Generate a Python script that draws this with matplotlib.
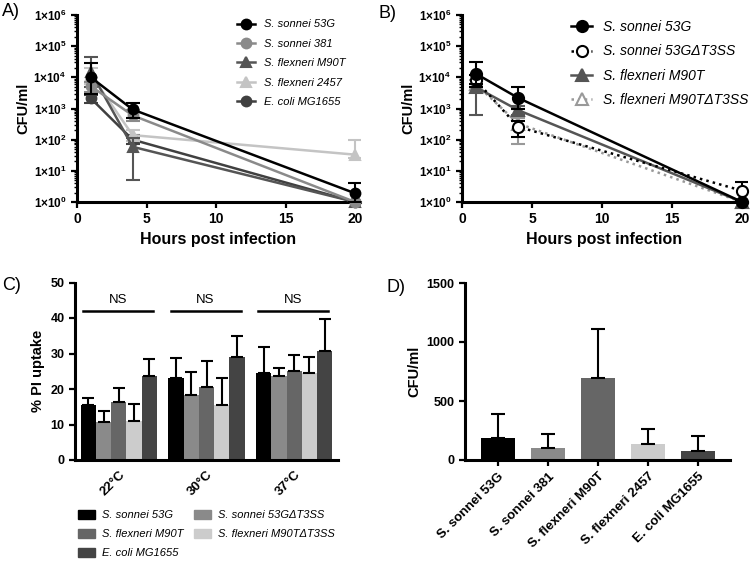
import matplotlib.pyplot as plt
import numpy as np
from matplotlib.ticker import LogLocator, NullFormatter
from matplotlib.patches import Patch

plt.rcParams['font.family'] = 'Liberation Sans'
plt.rcParams['font.weight'] = 'bold'
plt.rcParams['axes.labelweight'] = 'bold'
plt.rcParams['mathtext.fontset'] = 'custom'
plt.rcParams['mathtext.rm'] = 'Liberation Sans:bold'
plt.rcParams['mathtext.bf'] = 'Liberation Sans:bold'
plt.rcParams['mathtext.it'] = 'Liberation Sans:italic:bold'

hours = [1, 4, 20]

# panel A - survival of strains (mean, lower and upper error bar ends)
a_names = ['S. sonnei 53G', 'S. sonnei 381', 'S. flexneri M90T',
           'S. flexneri 2457', 'E. coli MG1655']
a_means = [[10000, 930, 1.9],
           [5200, 600, 1.0],
           [15000, 59, 1.0],
           [12000, 140, 33],
           [2100, 100, 1.0]]
a_lo = [[3000, 480, 1.0],
        [3500, 400, 1.0],
        [5000, 5, 1.0],
        [6000, 90, 25],
        [1500, 70, 1.0]]
a_hi = [[28000, 1500, 4.1],
        [7000, 900, 1.0],
        [46000, 113, 1.0],
        [20000, 200, 100],
        [2800, 140, 1.0]]
a_colors = ['black', '#8a8a8a', '#555555', '#c4c4c4', '#404040']
a_markers = ['o', 'o', '^', '^', 'o']

# panel B - T3SS mutants
b_names = ['S. sonnei 53G', 'S. sonnei 53G\u0394T3SS', 'S. flexneri M90T',
           'S. flexneri M90T\u0394T3SS']
b_means = [[13000, 2200, 1.0],
           [8000, 260, 2.3],
           [4800, 890, 1.0],
           [6000, 330, 1.0]]
b_lo = [[6000, 1000, 1.0],
        [5000, 122, 1.2],
        [610, 600, 1.0],
        [4000, 72, 1.0]]
b_hi = [[32000, 4800, 1.0],
        [12000, 400, 4.4],
        [6000, 1200, 1.0],
        [8000, 500, 1.0]]
b_colors = ['black', 'black', '#555555', '#999999']
b_markers = ['o', 'o', '^', '^']
b_open = [False, True, False, True]
b_styles = ['-', ':', '-', ':']

# panel C - PI uptake
temps = ['22\u00b0C', '30\u00b0C', '37\u00b0C']
c_names = ['S. sonnei 53G', 'S. sonnei 53G\u0394T3SS', 'S. flexneri M90T',
           'S. flexneri M90T\u0394T3SS', 'E. coli MG1655']
c_means = [[15.4, 23.0, 24.4],
           [10.8, 18.3, 23.6],
           [16.4, 20.6, 25.1],
           [11.1, 15.6, 24.4],
           [23.7, 28.9, 30.6]]
c_err = [[2.0, 5.7, 7.5],
         [3.0, 6.6, 2.2],
         [3.8, 7.4, 4.6],
         [4.7, 7.6, 4.7],
         [4.7, 6.1, 9.2]]
c_colors = ['black', '#8a8a8a', '#666666', '#cccccc', '#444444']

# panel D - CFU/ml
d_names = ['S. sonnei 53G', 'S. sonnei 381', 'S. flexneri M90T',
           'S. flexneri 2457', 'E. coli MG1655']
d_means = [189, 99, 699, 138, 76]
d_err = [200, 121, 408, 121, 127]
d_colors = ['black', '#8a8a8a', '#666666', '#cccccc', '#444444']

fig = plt.figure(figsize=(7.5, 5.62), dpi=100)


def style_axes(ax):
    for s in ['top', 'right']:
        ax.spines[s].set_visible(False)
    for s in ['left', 'bottom']:
        ax.spines[s].set_linewidth(2.2)
    ax.tick_params(which='major', direction='out', width=1.6, length=4,
                   labelsize=9)
    ax.tick_params(which='minor', direction='out', width=1.0, length=2.5)


def log_axes(ax):
    ax.set_yscale('log')
    ax.set_ylim(1, 1e6)
    ax.set_xlim(0, 20.35)
    ax.set_yticks([10.0 ** k for k in range(7)])
    ax.set_yticklabels(['1\u00d710$^{%d}$' % k for k in range(7)])
    ax.yaxis.set_minor_locator(LogLocator(base=10, subs=np.arange(2, 10)))
    ax.yaxis.set_minor_formatter(NullFormatter())
    ax.set_xticks([0, 5, 10, 15, 20])
    style_axes(ax)
    ax.tick_params(axis='y', which='major', labelsize=8.5)
    ax.tick_params(axis='x', labelsize=10)
    ax.set_xlabel('Hours post infection', fontsize=11.5)
    ax.set_ylabel('CFU/ml', fontsize=10.5, labelpad=2)


def time_course(ax, means, lo, hi, colors, markers, styles, faces, ms):
    handles = []
    for i in range(len(means)):
        m = np.array(means[i], float)
        err = [m - np.array(lo[i], float), np.array(hi[i], float) - m]
        ax.errorbar(hours, m, yerr=err, fmt='none', ecolor=colors[i],
                    elinewidth=1.5, capsize=5, capthick=1.5,
                    zorder=10 - i, clip_on=True)
        ln, = ax.plot(hours, m, color=colors[i], lw=1.8, ls=styles[i],
                      marker=markers[i], ms=ms, mfc=faces[i], mec=colors[i],
                      mew=1.5, zorder=10 - i, clip_on=False)
        handles.append(ln)
    return handles


# ---- A
axA = fig.add_axes([77 / 750, 1 - 202 / 562, 283 / 750, 187 / 562])
hA = time_course(axA, a_means, a_lo, a_hi, a_colors, a_markers,
                 ['-'] * 5, a_colors, 7)
log_axes(axA)
axA.legend(hA, a_names, loc='upper left',
           bbox_to_anchor=(0.53, 1.03), frameon=False,
           prop={'style': 'italic', 'size': 8, 'weight': 'normal'},
           labelspacing=0.85, handlelength=1.6, handletextpad=0.8)

# ---- B
axB = fig.add_axes([462 / 750, 1 - 202 / 562, 285 / 750, 187 / 562])
b_faces = ['white' if o else c for o, c in zip(b_open, b_colors)]
hB = time_course(axB, b_means, b_lo, b_hi, b_colors, b_markers, b_styles,
                 b_faces, 8)
log_axes(axB)
axB.legend(hB, b_names, loc='upper left',
           bbox_to_anchor=(0.34, 1.04), frameon=False,
           prop={'style': 'italic', 'size': 10, 'weight': 'normal'},
           labelspacing=0.75, handlelength=1.5, handletextpad=0.8)

# ---- C
axC = fig.add_axes([75 / 750, 1 - 460 / 562, 263 / 750, 177.5 / 562])
x = np.arange(len(temps))
bw = 0.174
for i in range(len(c_names)):
    pos = x + (i - 2) * bw
    axC.bar(pos, c_means[i], width=bw, color=c_colors[i], zorder=2)
    axC.errorbar(pos, c_means[i], yerr=[np.zeros(3), c_err[i]], fmt='none',
                 ecolor='black', elinewidth=1.5, capsize=4.5, capthick=1.5,
                 zorder=3)
axC.set_xlim(-0.5, 2.5)
axC.set_ylim(0, 50)
axC.set_yticks([0, 10, 20, 30, 40, 50])
axC.set_xticks(x)
axC.set_xticklabels(temps, rotation=45, ha='right', rotation_mode='anchor')
style_axes(axC)
axC.tick_params(axis='x', length=0, pad=6, labelsize=9.5)
axC.set_ylabel('% PI uptake', fontsize=10.5)
for g in x:
    axC.plot([g - 0.41, g + 0.39], [42, 42], color='black', lw=1.8,
             clip_on=False)
    axC.text(g - 0.01, 43.5, 'NS', ha='center', va='bottom', fontsize=9.5,
             fontweight='normal')

order = [0, 2, 4, 1, 3]
handles = [Patch(color=c_colors[k]) for k in order]
labels = [c_names[k] for k in order]
fig.legend(handles, labels, loc='upper left',
           bbox_to_anchor=(68 / 750, 1 - 500 / 562), ncol=2, frameon=False,
           prop={'style': 'italic', 'size': 8, 'weight': 'normal'},
           labelspacing=0.75, handlelength=1.5, handleheight=0.9,
           handletextpad=0.7, columnspacing=0.9)

# ---- D
axD = fig.add_axes([465 / 750, 1 - 460 / 562, 265 / 750, 177 / 562])
xd = np.arange(len(d_names))
axD.bar(xd, d_means, width=0.68, color=d_colors, zorder=2)
axD.errorbar(xd, d_means, yerr=[np.zeros(len(xd)), d_err], fmt='none',
             ecolor='black', elinewidth=1.5, capsize=5, capthick=1.5,
             zorder=3)
axD.set_xlim(-0.66, 4.64)
axD.set_ylim(0, 1500)
axD.set_yticks([0, 500, 1000, 1500])
axD.set_xticks(xd)
axD.set_xticklabels(d_names, rotation=45, ha='right', rotation_mode='anchor')
style_axes(axD)
axD.tick_params(axis='x', labelsize=9.5)
axD.set_ylabel('CFU/ml', fontsize=10.5)

# panel letters
for lab, (px, py) in zip(['A)', 'B)', 'C)', 'D)'],
                         [(2, 12), (378, 14), (2, 285), (387, 287)]):
    fig.text(px / 750, 1 - py / 562, lab, fontsize=13, va='center',
             ha='left', fontweight='normal')

fig.savefig('out.png', dpi=100)
